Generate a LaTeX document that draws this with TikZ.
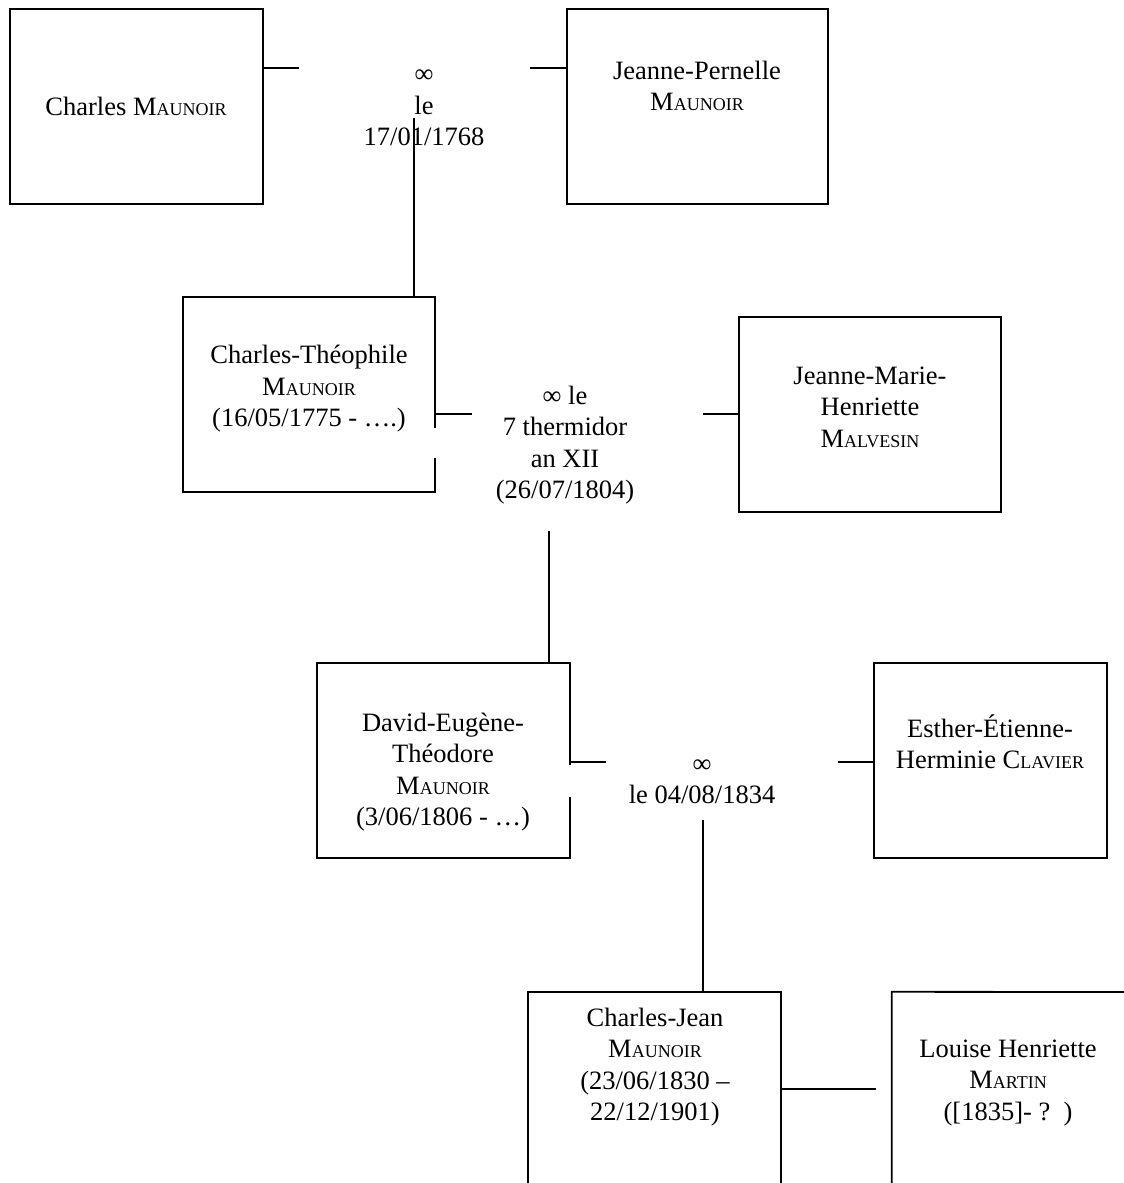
\documentclass[tikz,border=0pt]{standalone}
\usepackage{fontspec}
\setmainfont{Liberation Serif}
\usetikzlibrary{calc}
\newcommand\smc[2]{#1{\fontsize{18}{18}\selectfont #2}}
\begin{document}
\begin{tikzpicture}[x=1pt,y=-1pt,
  boxd/.style={draw, line width=1.8pt, rectangle, inner sep=0pt},
  boxo/.style={rectangle, inner sep=0pt},
  outline/.style={line width=1.8pt},
  conn/.style={line width=1.4pt},
  txt/.style={align=center, inner sep=0pt, font=\fontsize{26.5}{31.5}\selectfont}]
\useasboundingbox (0,0) rectangle (1124,1183);
% boxes
\node[boxd, minimum width=253, minimum height=195] (b1) at (136.5,106.5) {};
\node[boxd, minimum width=261, minimum height=195] (b2) at (697.5,106.5) {};
\node[boxo, minimum width=252, minimum height=195] (b3) at (309,394.5) {};
\node[boxd, minimum width=262, minimum height=195] (b4) at (870,414.5) {};
\node[boxo, minimum width=253, minimum height=195] (b5) at (443.5,760.5) {};
\node[boxd, minimum width=233, minimum height=195] (b6) at (990.5,760.5) {};
\node[boxo, minimum width=253, minimum height=195] (b7) at (654.5,1089.5) {};
\node[boxo, minimum width=232, minimum height=195] (b8) at (1008,1089.5) {};
% partial outlines
\draw[outline] ($(b3.north east)+(0,131)$) -- (b3.north east) -- (b3.north west)
  -- (b3.south west) -- (b3.south east) -- ($(b3.south east)+(0,-34)$);
\draw[outline] ($(b5.north east)+(0,102)$) -- (b5.north east) -- (b5.north west)
  -- (b5.south west) -- (b5.south east) -- ($(b5.south east)+(0,-61)$);
\draw[outline] (b7.north west |- 0,1183) -- (b7.north west) -- (b7.north east) -- (b7.north east |- 0,1183);
\draw[outline] (b8.north west |- 0,1183) -- (b8.north west) -- (1124,992);
% texts
\node[txt] (t1) at (136,106) {Charles \smc{M}{AUNOIR}};
\node[txt] (t2) at (697,86) {Jeanne-Pernelle\\\smc{M}{AUNOIR}};
\node[txt] (t3) at (309,389) {Charles-Théophile\\\smc{M}{AUNOIR}\\(16/05/1775 - ….)};
\node[txt] (t4) at (870,407) {Jeanne-Marie-\\Henriette\\\smc{M}{ALVESIN}};
\node[txt] (t5) at (443,772) {David-Eugène-\\Théodore\\\smc{M}{AUNOIR}\\(3/06/1806 - …)};
\node[txt] (t6) at (990,742) {Esther-Étienne-\\Herminie \smc{C}{LAVIER}};
\node[txt] (t7) at (655,1067) {Charles-Jean\\\smc{M}{AUNOIR}\\(23/06/1830 –\\22/12/1901)};
\node[txt] (t8) at (1008,1083) {Louise Henriette\\\smc{M}{ARTIN}\\({[1835]}- ?\ \ )};
% marriages
\node[txt] (m1) at (424,108) {∞\\le\\17/01/1768};
\node[txt] (m2) at (565,445) {∞ le\\7 thermidor\\an XII\\(26/07/1804)};
\node[txt] (m3) at (702,782) {∞\\le 04/08/1834};
% connector ends
\coordinate (m1l) at (299,68);
\coordinate (m1r) at (530,68);
\coordinate (v1) at (414,118);
\coordinate (m2l) at (472,414);
\coordinate (m2r) at (703,414);
\coordinate (v2) at (549,531);
\coordinate (m3l) at (606,762);
\coordinate (m3r) at (838,762);
\coordinate (v3) at (703,820);
\coordinate (c78) at (876,1089);
% connectors
\draw[conn] ($(m1l -| b1.east)+(-2,0)$) -- (m1l);
\draw[conn] (m1r) -- (m1r -| b2.west);
\draw[conn] (v1) -- (v1 |- b3.north);
\draw[conn] (m2l -| b3.east) -- (m2l);
\draw[conn] (m2r) -- (m2r -| b4.west);
\draw[conn] (v2) -- (v2 |- b5.north);
\draw[conn] (m3l -| b5.east) -- (m3l);
\draw[conn] (m3r) -- (m3r -| b6.west);
\draw[conn] (v3) -- (v3 |- b7.north);
\draw[conn] (c78 -| b7.east) -- (c78);
\end{tikzpicture}
\end{document}
